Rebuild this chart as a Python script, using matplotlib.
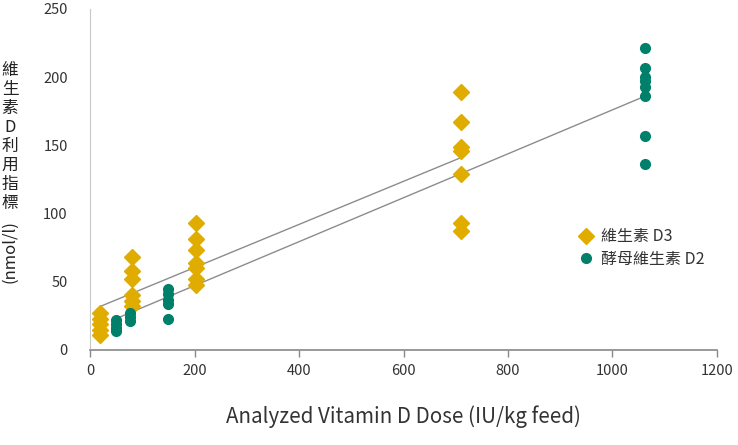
import matplotlib.pyplot as plt

plt.rcParams['font.family'] = ['Noto Sans CJK TC', 'DejaVu Sans']

# 維生素 D3 (diamonds)
d3_x = [20] * 5 + [80] * 6 + [203] * 7 + [710] * 7
d3_y = [27, 23, 19, 15, 11,
        68, 58, 52, 40, 36, 32,
        93, 81, 73, 64, 60, 52, 48,
        189, 167, 149, 146, 129, 93, 87]

# 酵母維生素 D2 (circles)
d2_x = [50] * 4 + [76] * 3 + [150] * 5 + [1062] * 8
d2_y = [22, 19, 16, 14,
        27, 24, 21,
        45, 41, 37, 34, 23,
        221, 207, 200, 197, 193, 186, 157, 136]

# trend lines (end points)
d3_fit_x = [20, 710]
d3_fit_y = [32, 141]
d2_fit_x = [50, 1062]
d2_fit_y = [23, 186]

xticks = [0, 200, 400, 600, 800, 1000, 1200]
yticks = [0, 50, 100, 150, 200, 250]

gold = '#E0AC00'
teal = '#00806A'
txt = '#333333'

dpi = 100
fig = plt.figure(figsize=(738 / dpi, 445 / dpi), dpi=dpi)
ax = fig.add_axes([0.122, 0.2135, 0.8495, 0.7665])

ax.plot(d3_fit_x, d3_fit_y, color='#8c8c8c', lw=1, zorder=1)
ax.plot(d2_fit_x, d2_fit_y, color='#8c8c8c', lw=1, zorder=1)

ax.plot(d3_x, d3_y, linestyle='none', marker='D', ms=8.5, color=gold,
        mec=gold, label='維生素 D3', zorder=2)
ax.plot(d2_x, d2_y, linestyle='none', marker='o', ms=7, color=teal,
        mec=teal, label='酵母維生素 D2', zorder=2)

ax.set_xlim(0, 1200)
ax.set_ylim(0, 250)
ax.set_xticks(xticks)
ax.set_yticks(yticks)
ax.tick_params(axis='x', length=5, width=1, color='#888888', labelsize=10.5,
               labelcolor=txt, pad=5)
ax.tick_params(axis='y', length=0, labelsize=10.5, labelcolor=txt, pad=16)

for s in ['top', 'right']:
    ax.spines[s].set_visible(False)
ax.spines['left'].set_color('#c8c8c8')
ax.spines['bottom'].set_color('#888888')
ax.spines['bottom'].set_linewidth(1.2)

ax.set_xlabel('Analyzed Vitamin D Dose (IU/kg feed)', fontsize=14.8,
              color=txt, labelpad=20)

# stacked y label
fig.text(10 / 738, 1 - 137 / 445, '維\n生\n素\nD\n利\n用\n指\n標', ha='center',
         va='center', fontsize=12, fontweight='medium', color='#222222',
         linespacing=1.16)
fig.text(10 / 738, 1 - 252 / 445, '(nmol/l)', rotation=90, ha='center',
         va='center', fontsize=12, color='#222222')

leg = ax.legend(loc='upper left', bbox_to_anchor=(0.765, 0.375), frameon=False,
                fontsize=11.5, handletextpad=0.35, labelspacing=0.35,
                handlelength=1.2, borderaxespad=0)
for t in leg.get_texts():
    t.set_color(txt)

fig.savefig('out.png', dpi=dpi)
